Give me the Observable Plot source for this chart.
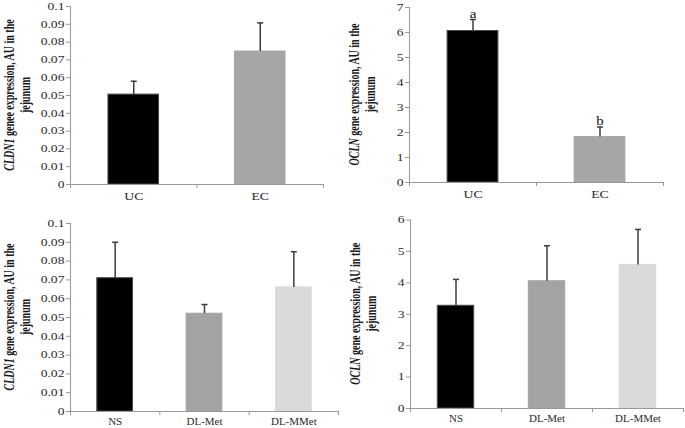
<!DOCTYPE html>
<html><head><meta charset="utf-8">
<script src="https://cdn.jsdelivr.net/npm/d3@7"></script>
<script src="https://cdn.jsdelivr.net/npm/@observablehq/plot@0.6"></script>
<style>
body{margin:0;background:#fff;}
#wrap{position:relative;width:685px;height:428px;overflow:hidden;background:#fff;}
.panel{position:absolute;}
</style></head><body><div id="wrap"></div>
<script>
// ---- data ----
const topCategories = ["UC", "EC"];
const topCldn1 = [0.0505, 0.0747];
const topCldn1Err = [0.0075, 0.0161];
const topOcln = [6.06, 1.82];
const topOclnErr = [0.46, 0.40];
const topOclnLetters = ["a", "b"];

const bottomCategories = ["NS", "DL-Met", "DL-MMet"];
const bottomCldn1 = [0.0709, 0.052, 0.066];
const bottomCldn1Err = [0.0191, 0.0049, 0.019];
const bottomOcln = [3.27, 4.05, 4.57];
const bottomOclnErr = [0.84, 1.13, 1.13];

const cldn1Ticks = [0, 0.01, 0.02, 0.03, 0.04, 0.05, 0.06, 0.07, 0.08, 0.09, 0.1];
const oclnTopTicks = [0, 1, 2, 3, 4, 5, 6, 7];
const oclnBottomTicks = [0, 1, 2, 3, 4, 5, 6];

const topColors = ["#000000", "#a6a6a6"];
const bottomColors = ["#000000", "#a3a3a3", "#d9d9d9"];

// ---- styles ----
const axisColor = "#999999";
const errColor = "#3c3c3c";
const textColor = "#2a2a2a";
const capSymbol = {draw(ctx, size) { const r = Math.sqrt(size / Math.PI); ctx.moveTo(-r, 0); ctx.lineTo(r, 0); }};

function panel(o) {
  const n = o.cats.length;
  const data = o.cats.map((c, i) => ({c, i, v: o.values[i], e: o.errs[i], t: o.values[i] + o.errs[i],
    l: o.letters ? o.letters[i] : "", col: o.colors[i]}));
  const half = o.barFrac / 2;
  const chart = Plot.plot({
    width: o.width, height: o.height,
    marginLeft: o.m[0], marginRight: o.m[1], marginTop: o.m[2], marginBottom: o.m[3],
    x: {domain: [0, n], axis: null},
    y: {domain: o.yDomain, axis: null},
    style: {fontFamily: "'Liberation Serif', 'Times New Roman', serif", background: "transparent", color: textColor, overflow: "visible"},
    marks: [
      Plot.rectY(data, {x1: d => d.i + 0.5 - half, x2: d => d.i + 0.5 + half, y1: 0, y2: "v", fill: "col",
        stroke: d => d.col === "#000000" ? "#4a4a4a" : d.col, strokeWidth: 1}),
      Plot.ruleY([o.yDomain[0]], {stroke: axisColor}),
      Plot.ruleX([0], {stroke: axisColor}),
      Plot.axisY({ticks: o.yTicks, tickFormat: o.fmt, tickSize: 4, tickPadding: 2, stroke: axisColor, fontSize: o.tickFont}),
      Plot.axisX({ticks: d3.range(n + 1), tickSize: 4, tickFormat: () => "", stroke: axisColor}),
      Plot.axisX({ticks: data.map(d => d.i + 0.5), tickSize: 0, tickPadding: o.xPad, tickFormat: v => o.cats[Math.floor(v)], fontSize: o.xFont}),
      Plot.ruleX(data, {x: d => d.i + 0.5, y1: "v", y2: "t", stroke: errColor, strokeWidth: 1.5}),
      Plot.dot(data, {x: d => d.i + 0.5, y: "t", symbol: capSymbol, r: 3, stroke: errColor, strokeWidth: 1.5}),
      o.letters ? Plot.text(data, {x: d => d.i + 0.5, y: "t", text: "l", lineAnchor: "bottom", dy: -2, fontSize: 12, fill: "#111111"}) : null
    ]
  });
  const stretch = (sel, s) => chart.querySelectorAll(sel).forEach(t => {
    const tr = t.getAttribute("transform");
    if (tr) t.setAttribute("transform", tr + ` scale(${s},1)`);
    else { const x = t.getAttribute("x") || 0; t.removeAttribute("x"); t.setAttribute("transform", `translate(${x},0) scale(${s},1)`); }
  });
  stretch("g[aria-label='y-axis tick label'] text", o.tickStretch);
  stretch("g[aria-label='x-axis tick label'] text", o.xStretch);
  stretch("g[aria-label='text'] text", o.xStretch);
  // y-axis title (rotated, two lines)
  const cy = (o.m[2] + (o.height - o.m[3])) / 2;
  d3.select(chart).append("text")
    .attr("transform", `translate(${o.labelX},${cy}) scale(${o.labelStretch},1) rotate(-90)`)
    .attr("text-anchor", "middle").attr("font-weight", "bold").attr("font-size", o.labelFont)
    .attr("fill", "#1a1a1a")
    .html(`<tspan x="0" dy="0"><tspan font-style="italic">${o.gene}</tspan> ${o.geneText}</tspan><tspan x="0" dy="${o.lineGap}">jejunum</tspan>`);
  const div = document.createElement("div");
  div.className = "panel";
  div.style.left = o.left + "px"; div.style.top = o.top + "px";
  div.appendChild(chart);
  document.getElementById("wrap").appendChild(div);
}

const fmt2 = d => String(+d.toFixed(2));
const common = {barFrac: 0.4, tickFont: 10.5, tickStretch: 1.3, xFont: 11, xStretch: 1.25, labelFont: 10, labelStretch: 1.4, lineGap: 11.5};

panel({...common, cats: topCategories, values: topCldn1, errs: topCldn1Err, colors: topColors,
  yDomain: [0, 0.1], yTicks: cldn1Ticks, fmt: fmt2, left: 0, top: 0, width: 340, height: 210,
  m: [70, 17, 6, 26], xPad: 8, gene: "CLDN1", geneText: "genee expression, AU in the", labelX: 14});
panel({...common, cats: topCategories, values: topOcln, errs: topOclnErr, letters: topOclnLetters, colors: topColors,
  yDomain: [0, 7], yTicks: oclnTopTicks, fmt: d => String(d), left: 340, top: 0, width: 345, height: 210,
  m: [69, 22, 7, 28], xPad: 8, gene: "OCLN", geneText: "gene expression, AU in the", labelX: 19});
panel({...common, cats: bottomCategories, values: bottomCldn1, errs: bottomCldn1Err, colors: bottomColors,
  yDomain: [0, 0.1], yTicks: cldn1Ticks, fmt: fmt2, left: 0, top: 210, width: 340, height: 218,
  m: [70, 2, 13, 17], xPad: 6, xFont: 10, xStretch: 1.1, gene: "CLDN1", geneText: "gene expression, AU in the", labelX: 14});
panel({...common, cats: bottomCategories, values: bottomOcln, errs: bottomOclnErr, colors: bottomColors,
  yDomain: [0, 6], yTicks: oclnBottomTicks, fmt: d => String(d), left: 340, top: 210, width: 345, height: 218,
  m: [70, 2, 9.5, 20], xPad: 6, xFont: 10, xStretch: 1.1, gene: "OCLN", geneText: "gene expression, AU in the", labelX: 20});
</script></body></html>
